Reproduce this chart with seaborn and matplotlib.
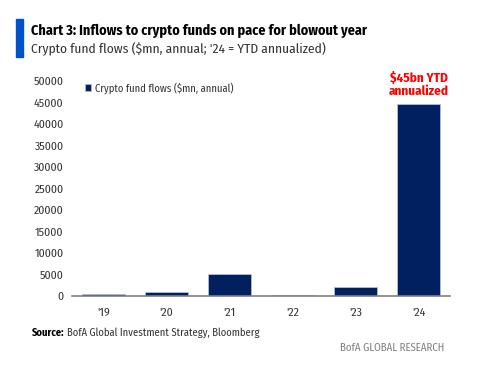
import matplotlib
matplotlib.use("Agg")
import matplotlib.pyplot as plt
import seaborn as sns
import pandas as pd
from matplotlib import font_manager as fm
from matplotlib.patches import Rectangle

years = ["'19", "'20", "'21", "'22", "'23", "'24"]
flows = [550, 900, 5100, 150, 2100, 44600]
yticks = [0, 5000, 10000, 15000, 20000, 25000, 30000, 35000, 40000, 45000, 50000]
series_name = "Crypto fund flows ($mn, annual)"

sns.set_theme(style="white")
names = {f.name for f in fm.fontManager.ttflist}
fam = "Fira Sans Condensed" if "Fira Sans Condensed" in names else "Roboto"
plt.rcParams['font.family'] = [fam, 'DejaVu Sans']

df = pd.DataFrame({"year": years, "flow": flows})
navy = "#002060"

fig = plt.figure(figsize=(4.84, 3.65), dpi=100)
ax = fig.add_axes([72/484, 1-296/365, 378/484, (296-81)/365])
sns.barplot(data=df, x="year", y="flow", color=navy, saturation=1, width=0.67,
            ax=ax, label=series_name, edgecolor="#c0c8d8", linewidth=0.5)
ax.set_ylim(0, 50000)
ax.set_xlim(-0.5, 5.5)
ax.set_yticks(yticks)
ax.set_yticklabels([str(t) for t in yticks])
ax.set_xlabel("")
ax.set_ylabel("")
for s in ["top", "right", "left"]:
    ax.spines[s].set_visible(False)
ax.spines["bottom"].set_color("#808080")
ax.spines["bottom"].set_linewidth(1.2)
ax.tick_params(axis="both", length=0, labelsize=8.5, colors="#333333")
ax.tick_params(axis="y", pad=6)
ax.tick_params(axis="x", pad=8)

leg = ax.legend(loc="upper left", bbox_to_anchor=(0.015, 1.03), frameon=False,
                fontsize=7.6, handlelength=0.6, handleheight=0.6, handletextpad=0.3,
                borderaxespad=0.3)
for t in leg.get_texts():
    t.set_color("#333333")

ax.annotate("$45bn YTD\nannualized", xy=(5, flows[5]), xytext=(0, 5),
            textcoords="offset points", ha="center", va="bottom",
            color="#ff0000", fontweight="bold", fontsize=9.5, linespacing=1.05,
            annotation_clip=False)

fig.patches.append(Rectangle((16/484, 1-57/365), 7/484, 38/365,
                             transform=fig.transFigure, color="#0052cc"))
fig.text(31/484, 1-31/365, "Chart 3: Inflows to crypto funds on pace for blowout year",
         fontsize=10.2, fontweight="bold", color="#000000", va="center")
fig.text(31/484, 1-49/365, "Crypto fund flows ($mn, annual; '24 = YTD annualized)",
         fontsize=9.7, color="#333333", va="center")
src = fig.text(32/484, 1-336/365, "Source:", fontsize=7.6, fontweight="bold",
               color="#000000", va="baseline")
ax.annotate("BofA Global Investment Strategy, Bloomberg", xy=(1, 0), xycoords=src,
            xytext=(2, 0), textcoords="offset points", va="bottom", ha="left",
            fontsize=7.6, color="#333333", annotation_clip=False)
fig.text(444/484, 1-348/365, "BofA GLOBAL RESEARCH", fontsize=7.8, color="#808080",
         va="center", ha="right")

fig.savefig("out.png", dpi=100)
